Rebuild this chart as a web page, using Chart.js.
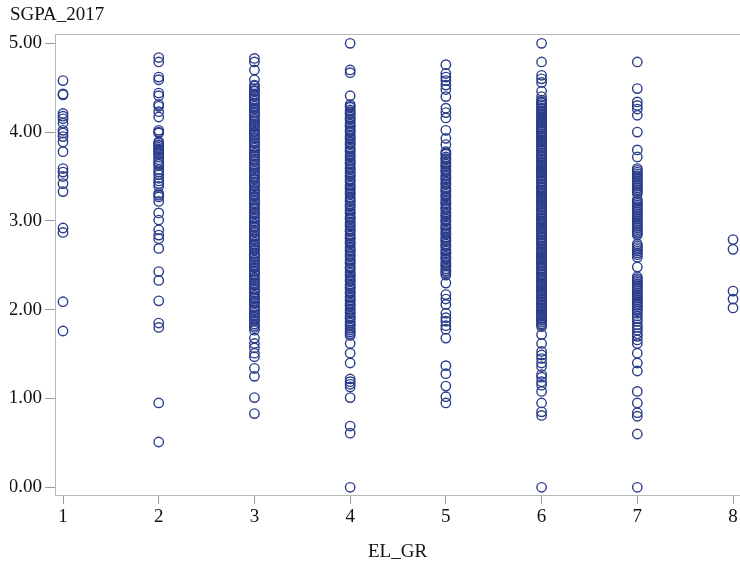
<!DOCTYPE html>
<html>
<head>
<meta charset="utf-8">
<script src="https://cdn.jsdelivr.net/npm/chart.js@4/dist/chart.umd.min.js"></script>
<style>
  html, body { margin: 0; padding: 0; background: #ffffff; }
  #wrap { width: 740px; height: 563px; }
</style>
</head>
<body>
<div id="wrap"><canvas id="c" width="740" height="563"></canvas></div>
<script>
// EL_GR groups and their SGPA_2017 values
const groups = [1, 2, 3, 4, 5, 6, 7, 8];

const sgpaGroup1 = [4.58, 4.43, 4.42, 4.21, 4.18, 4.15, 4.10, 4.02, 3.99, 3.95, 3.89, 3.78,
  3.59, 3.55, 3.50, 3.42, 3.33, 2.92, 2.87, 2.09, 1.76];

const sgpaGroup2 = [4.84, 4.79, 4.62, 4.59, 4.44, 4.41, 4.31, 4.29, 4.23, 4.17, 4.02, 4.00,
  3.99, 3.89, 3.88, 3.86, 3.85, 3.83, 3.81, 3.80, 3.78, 3.76, 3.75, 3.72, 3.69, 3.66, 3.64,
  3.62, 3.58, 3.55, 3.52, 3.48, 3.45, 3.42, 3.39, 3.31, 3.29, 3.27, 3.22, 3.09, 3.01, 2.90,
  2.84, 2.80, 2.69, 2.43, 2.33, 2.10, 1.85, 1.80, 0.95, 0.51];

const sgpaGroup3 = [4.83, 4.79, 4.70, 4.59,
  4.53, 4.52, 4.49, 4.47, 4.46, 4.43, 4.41, 4.40, 4.37, 4.35, 4.33, 4.32, 4.29, 4.27, 4.26,
  4.23, 4.21, 4.19, 4.18, 4.15, 4.13, 4.12, 4.09, 4.07, 4.06, 4.03, 4.01, 4.00, 3.98, 3.96,
  3.94, 3.93, 3.90, 3.88, 3.87, 3.84, 3.82, 3.80, 3.79, 3.76, 3.74, 3.73, 3.70, 3.68, 3.67,
  3.64, 3.62, 3.60, 3.59, 3.56, 3.54, 3.53, 3.50, 3.48, 3.47, 3.44, 3.42, 3.40, 3.39, 3.36,
  3.34, 3.33, 3.30, 3.28, 3.27, 3.24, 3.22, 3.20, 3.19, 3.16, 3.14, 3.13, 3.10, 3.08, 3.07,
  3.04, 3.02, 3.00, 2.99, 2.96, 2.94, 2.93, 2.90, 2.88, 2.87, 2.84, 2.82, 2.80, 2.79, 2.76,
  2.74, 2.73, 2.70, 2.68, 2.67, 2.64, 2.62, 2.60, 2.59, 2.56, 2.54, 2.53, 2.50, 2.48, 2.47,
  2.44, 2.42, 2.40, 2.39, 2.36, 2.34, 2.33, 2.30, 2.28, 2.27, 2.24, 2.22, 2.20, 2.19, 2.16,
  2.14, 2.13, 2.10, 2.08, 2.07, 2.04, 2.02, 2.00, 1.99, 1.96, 1.94, 1.93, 1.90, 1.88, 1.87,
  1.84, 1.82, 1.80,
  1.77, 1.68, 1.62, 1.57, 1.51, 1.47, 1.34, 1.25, 1.01, 0.83];

const sgpaGroup4 = [5.00, 4.70, 4.67, 4.41,
  4.31, 4.29, 4.28, 4.25, 4.23, 4.21, 4.20, 4.17, 4.15, 4.14, 4.11, 4.09, 4.07, 4.06, 4.03,
  4.01, 4.00, 3.97, 3.95, 3.93, 3.92, 3.89, 3.87, 3.86, 3.83, 3.81, 3.79, 3.78, 3.75, 3.73,
  3.72, 3.69, 3.67, 3.65, 3.64, 3.61, 3.59, 3.58, 3.55, 3.53, 3.51, 3.50, 3.47, 3.45, 3.44,
  3.41, 3.39, 3.37, 3.36, 3.33, 3.31, 3.30, 3.27, 3.25, 3.23, 3.22, 3.19, 3.17, 3.16, 3.13,
  3.11, 3.09, 3.08, 3.05, 3.03, 3.02, 2.99, 2.97, 2.95, 2.94, 2.91, 2.89, 2.88, 2.85, 2.83,
  2.81, 2.80, 2.77, 2.75, 2.74, 2.71, 2.69, 2.67, 2.66, 2.63, 2.61, 2.60, 2.57, 2.55, 2.53,
  2.52, 2.49, 2.47, 2.46, 2.43, 2.41, 2.39, 2.38, 2.35, 2.33, 2.32, 2.29, 2.27, 2.25, 2.24,
  2.21, 2.19, 2.18, 2.15, 2.13, 2.11, 2.10, 2.07, 2.05, 2.04, 2.01, 1.99, 1.97, 1.96, 1.93,
  1.91, 1.90, 1.87, 1.85, 1.83, 1.82, 1.79, 1.77, 1.75, 1.73, 1.71,
  1.62, 1.51, 1.40, 1.22, 1.19, 1.16, 1.13, 1.01, 0.69, 0.61, 0.00];

const sgpaGroup5 = [4.76, 4.66, 4.62, 4.58, 4.53, 4.48, 4.40, 4.27, 4.22, 4.16, 4.02, 3.93,
  3.86,
  3.78, 3.76, 3.75, 3.72, 3.70, 3.69, 3.66, 3.64, 3.62, 3.61, 3.58, 3.56, 3.55, 3.52, 3.50,
  3.48, 3.47, 3.44, 3.42, 3.41, 3.38, 3.36, 3.34, 3.33, 3.30, 3.28, 3.27, 3.24, 3.22, 3.20,
  3.19, 3.16, 3.14, 3.13, 3.10, 3.08, 3.06, 3.05, 3.02, 3.00, 2.99, 2.96, 2.94, 2.92, 2.91,
  2.88, 2.86, 2.85, 2.82, 2.80, 2.78, 2.77, 2.74, 2.72, 2.71, 2.68, 2.66, 2.64, 2.63, 2.60,
  2.58, 2.57, 2.54, 2.52, 2.50, 2.49, 2.46, 2.44, 2.43, 2.41, 2.39,
  2.30, 2.17, 2.12, 2.06, 1.96, 1.91, 1.87, 1.82, 1.78, 1.68, 1.37, 1.28, 1.14, 1.02, 0.95];

const sgpaGroup6 = [5.00, 4.79, 4.64, 4.60, 4.56, 4.46, 4.40,
  4.36, 4.34, 4.33, 4.31, 4.29, 4.27, 4.26, 4.24, 4.22, 4.20, 4.19, 4.17, 4.15, 4.13, 4.12,
  4.10, 4.08, 4.06, 4.05, 4.03, 4.01, 4.00, 3.98, 3.96, 3.94, 3.93, 3.91, 3.89, 3.87, 3.86,
  3.84, 3.82, 3.80, 3.79, 3.77, 3.75, 3.73, 3.72, 3.70, 3.68, 3.66, 3.65, 3.63, 3.61, 3.59,
  3.58, 3.56, 3.54, 3.52, 3.51, 3.49, 3.47, 3.45, 3.44, 3.42, 3.40, 3.38, 3.37, 3.35, 3.33,
  3.31, 3.30, 3.28, 3.26, 3.24, 3.23, 3.21, 3.19, 3.17, 3.16, 3.14, 3.12, 3.10, 3.09, 3.07,
  3.05, 3.03, 3.02, 3.00, 2.98, 2.96, 2.95, 2.93, 2.91, 2.89, 2.88, 2.86, 2.84, 2.82, 2.81,
  2.79, 2.77, 2.75, 2.74, 2.72, 2.70, 2.68, 2.67, 2.65, 2.63, 2.61, 2.60, 2.58, 2.56, 2.54,
  2.53, 2.51, 2.49, 2.47, 2.46, 2.44, 2.42, 2.40, 2.39, 2.37, 2.35, 2.33, 2.32, 2.30, 2.28,
  2.26, 2.25, 2.23, 2.21, 2.19, 2.18, 2.16, 2.14, 2.12, 2.11, 2.09, 2.07, 2.05, 2.04, 2.02,
  2.00, 1.98, 1.97, 1.95, 1.93, 1.91, 1.90, 1.88, 1.86, 1.84, 1.83, 1.81,
  1.72, 1.62, 1.53, 1.49, 1.45, 1.40, 1.36, 1.27, 1.24, 1.19, 1.15, 1.08, 0.95, 0.85, 0.81,
  0.00];

const sgpaGroup7 = [4.79, 4.49, 4.34, 4.30, 4.26, 4.19, 4.00, 3.80, 3.72,
  3.59, 3.57, 3.55, 3.53, 3.51, 3.49, 3.47, 3.45, 3.43, 3.41, 3.39, 3.37, 3.35, 3.33, 3.31,
  3.24, 3.22, 3.20, 3.18, 3.16, 3.14, 3.12, 3.10, 3.08, 3.06, 3.04, 3.02, 3.00, 2.98, 2.96,
  2.94, 2.92, 2.90, 2.88, 2.86, 2.84, 2.74, 2.72, 2.70, 2.68, 2.66, 2.64, 2.62, 2.59, 2.48,
  2.37, 2.35, 2.33, 2.31, 2.29, 2.27, 2.25, 2.23, 2.21, 2.19, 2.17, 2.15, 2.13, 2.11, 2.09,
  2.07, 2.05, 2.03, 2.01, 1.99, 1.96, 1.93, 1.90, 1.87, 1.83, 1.80, 1.77, 1.73, 1.70, 1.66,
  1.62, 1.51, 1.40, 1.31, 1.08, 0.95, 0.84, 0.80, 0.60, 0.00];

const sgpaGroup8 = [2.79, 2.68, 2.21, 2.12, 2.02];

const sgpaByGroup = [sgpaGroup1, sgpaGroup2, sgpaGroup3, sgpaGroup4,
  sgpaGroup5, sgpaGroup6, sgpaGroup7, sgpaGroup8];

const xTickValues = [1, 2, 3, 4, 5, 6, 7, 8];
const yTickValues = [0, 1, 2, 3, 4, 5];

// flatten into {x, y} points
const points = [];
groups.forEach((g, i) => {
  sgpaByGroup[i].forEach(v => points.push({ x: g, y: v }));
});

const serif = "'Liberation Serif', 'DejaVu Serif', serif";
const axisGray = '#b8b8b8';
const tickGray = '#9a9a9a';
const markColor = 'rgb(42, 60, 138)';
const fontSize = 19;

new Chart(document.getElementById('c'), {
  type: 'scatter',
  data: {
    datasets: [{
      data: points,
      showLine: false,
      clip: false,
      pointStyle: 'circle',
      pointRadius: 4.7,
      pointHoverRadius: 4.7,
      pointBorderWidth: 1.4,
      pointBackgroundColor: 'rgba(0,0,0,0)',
      pointBorderColor: markColor
    }]
  },
  options: {
    responsive: false,
    animation: false,
    devicePixelRatio: 1,
    layout: { autoPadding: false, padding: { left: 10, right: 0, top: 0, bottom: 0 } },
    plugins: {
      legend: { display: false },
      tooltip: { enabled: false },
      title: {
        display: true,
        text: 'SGPA_2017',
        align: 'start',
        color: '#111111',
        font: { family: serif, size: fontSize, weight: 'normal', lineHeight: 1.2 },
        padding: { top: 4, bottom: 7.2 }
      }
    },
    scales: {
      x: {
        type: 'linear',
        position: 'bottom',
        min: 0.9164,
        max: 8.073,
        afterBuildTicks: s => { s.ticks = xTickValues.map(v => ({ value: v })); },
        afterFit: s => { s.height = 68; s.paddingLeft = 0; s.paddingRight = 0; },
        border: { display: true, color: axisGray, width: 1 },
        grid: { drawOnChartArea: false, drawTicks: true, tickLength: 9, color: tickGray, tickWidth: 1 },
        ticks: {
          color: '#111111',
          font: { family: serif, size: fontSize },
          padding: 2,
          maxRotation: 0,
          callback: v => String(v)
        },
        title: {
          display: true,
          text: 'EL_GR',
          color: '#111111',
          font: { family: serif, size: fontSize },
          padding: { top: 0, bottom: 0 }
        }
      },
      xTop: {
        type: 'linear',
        position: 'top',
        min: 0.9164,
        max: 8.073,
        afterFit: s => { s.height = 0; s.paddingLeft = 0; s.paddingRight = 0; },
        border: { display: true, color: axisGray, width: 1 },
        grid: { display: false, drawOnChartArea: false, drawTicks: false },
        ticks: { display: false }
      },
      y: {
        type: 'linear',
        position: 'left',
        min: -0.0867,
        max: 5.105,
        afterBuildTicks: s => { s.ticks = yTickValues.map(v => ({ value: v })); },
        afterFit: s => { s.width = 45; s.paddingTop = 0; s.paddingBottom = 0; },
        border: { display: true, color: axisGray, width: 1 },
        grid: { drawOnChartArea: false, drawTicks: true, tickLength: 10, color: tickGray, tickWidth: 1 },
        ticks: {
          color: '#111111',
          font: { family: serif, size: fontSize },
          padding: 3,
          callback: v => Number(v).toFixed(2)
        }
      }
    }
  }
});
</script>
</body>
</html>
